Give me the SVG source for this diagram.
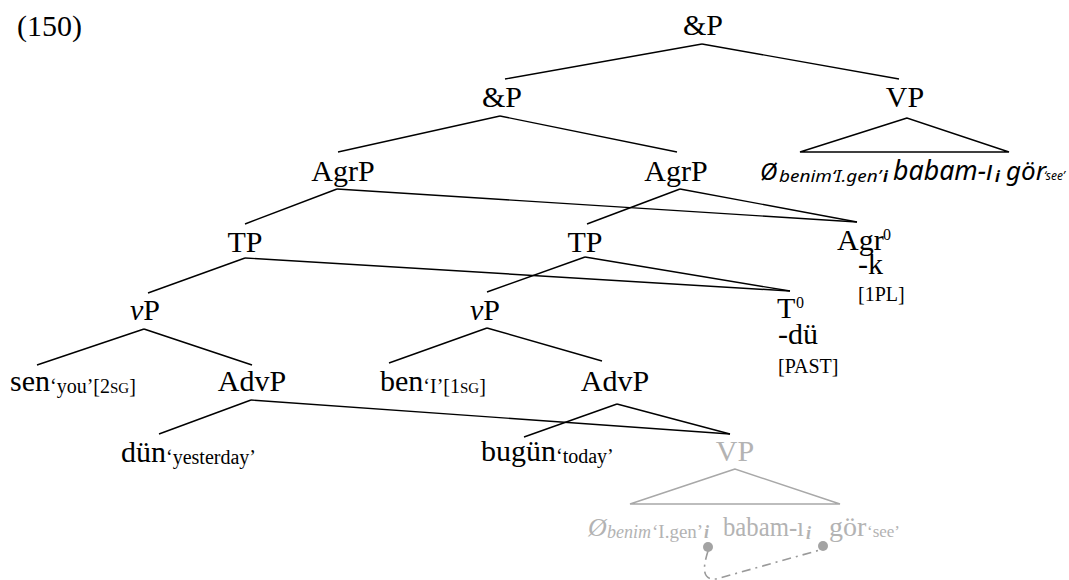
<svg xmlns="http://www.w3.org/2000/svg" width="1069" height="580" viewBox="0 0 1069 580">
<style>
text{font-family:"Liberation Serif",serif;fill:#000}
.n{font-size:30px}
.m{text-anchor:middle}
.s{font-size:20px}
.sc{font-size:15px}
.it{font-style:italic}
.g{fill:#b3b3b3}
.e{stroke:#000;stroke-width:1.4;fill:none}
.ge{stroke:#a8a8a8;stroke-width:1.4;fill:none}
.sans{font-family:"Noto Sans","DejaVu Sans",sans-serif;font-style:italic}
</style>
<rect width="1069" height="580" fill="#fff"/>
<text class="n" x="17" y="36">(150)</text>
<g id="connectors">
<line class="e" x1="702" y1="44" x2="505" y2="79"/>
<line class="e" x1="702" y1="44" x2="899" y2="79"/>
<polygon class="e" points="907,118 800,152 1009,152"/>
<line class="e" x1="500" y1="116" x2="338" y2="152"/>
<line class="e" x1="500" y1="116" x2="677" y2="152"/>
<line class="e" x1="337" y1="189" x2="245" y2="224"/>
<line class="e" x1="337" y1="189" x2="857" y2="222"/>
<line class="e" x1="680" y1="189" x2="587" y2="224"/>
<line class="e" x1="680" y1="189" x2="857" y2="222"/>
<line class="e" x1="245" y1="258" x2="148" y2="293"/>
<line class="e" x1="245" y1="258" x2="790" y2="291"/>
<line class="e" x1="585" y1="257" x2="487" y2="292"/>
<line class="e" x1="585" y1="257" x2="790" y2="291"/>
<line class="e" x1="144" y1="329" x2="37" y2="365"/>
<line class="e" x1="144" y1="329" x2="252" y2="365"/>
<line class="e" x1="487" y1="328" x2="389" y2="363"/>
<line class="e" x1="487" y1="328" x2="602" y2="361"/>
<line class="e" x1="251" y1="400" x2="159" y2="434"/>
<line class="e" x1="251" y1="400" x2="730" y2="434"/>
<line class="e" x1="617" y1="404" x2="524" y2="437"/>
<line class="e" x1="617" y1="404" x2="730" y2="434"/>
<polygon class="ge" points="735,469 630,504 840,504"/>
<path d="M708,551 C702,570 703,580 716,579 L820,550" fill="none" stroke="#9a9a9a" stroke-width="1.6" stroke-dasharray="9,5,2,5"/>
</g>
<g id="n-andP-top"><text class="n m" x="703" y="35">&amp;P</text></g>
<g id="n-andP"><text class="n m" x="502" y="107">&amp;P</text></g>
<g id="n-VP"><text class="n m" x="905" y="107">VP</text>
<text x="760" y="180" class="sans"><tspan font-size="24">Ø</tspan><tspan x="779" y="182" font-size="16" textLength="102" lengthAdjust="spacingAndGlyphs">benim‘I.gen’</tspan><tspan x="883" y="182" font-size="16" font-weight="bold">i</tspan><tspan x="893" y="180" font-size="27" textLength="100" lengthAdjust="spacingAndGlyphs">babam-ı</tspan><tspan x="995" y="182" font-size="16" font-weight="bold">i</tspan><tspan x="1006" y="180" font-size="26">gör</tspan><tspan x="1044" y="180" font-size="12">‘see’</tspan></text></g>
<g id="n-AgrP-l"><text class="n m" x="343" y="181">AgrP</text></g>
<g id="n-AgrP-r"><text class="n m" x="676" y="181">AgrP</text></g>
<g id="n-TP-l"><text class="n m" x="245" y="252">TP</text></g>
<g id="n-TP-r"><text class="n m" x="585" y="252">TP</text></g>
<g id="n-Agr0"><text class="n" x="837" y="250">Agr</text><text x="883" y="240" font-size="16">0</text>
<text class="n" x="858" y="274" font-size="26">-k</text>
<text class="s" x="858" y="301">[1PL]</text></g>
<g id="n-vP-l"><text class="n m" x="145" y="320"><tspan class="it">v</tspan>P</text></g>
<g id="n-vP-r"><text class="n m" x="485" y="320"><tspan class="it">v</tspan>P</text></g>
<g id="n-T0"><text class="n" x="777" y="318">T</text><text x="796" y="308" font-size="16">0</text>
<text class="n" x="778" y="344" font-size="25">-dü</text>
<text class="s" x="778" y="373">[PAST]</text></g>
<g id="n-sen"><text class="n" x="10" y="391">sen<tspan class="s" dy="2">‘you’[2<tspan class="sc">SG</tspan>]</tspan></text></g>
<g id="n-AdvP-l"><text class="n m" x="252" y="391">AdvP</text></g>
<g id="n-ben"><text class="n" x="380" y="391">ben<tspan class="s" dy="2">‘I’[1<tspan class="sc">SG</tspan>]</tspan></text></g>
<g id="n-AdvP-r"><text class="n m" x="615" y="391">AdvP</text></g>
<g id="n-dun"><text class="n" x="121" y="462">dün<tspan class="s" dy="2">‘yesterday’</tspan></text></g>
<g id="n-bugun"><text class="n" x="481" y="461">bugün<tspan class="s" dy="2">‘today’</tspan></text></g>
<g id="n-VP-gray"><text class="n m g" x="735" y="461">VP</text>
<text class="g" x="588" y="536"><tspan font-size="26" class="it">Ø</tspan><tspan x="607" y="538" font-size="18" class="it">benim</tspan><tspan x="652" font-size="19">‘I.gen’</tspan><tspan x="704" font-size="18" class="it" font-weight="bold">i</tspan><tspan x="723" y="536" font-size="28" textLength="81" lengthAdjust="spacingAndGlyphs">babam-ı</tspan><tspan x="806" y="539" font-size="18" class="it" font-weight="bold">i</tspan><tspan x="829" y="536" font-size="28">gör</tspan><tspan x="867" y="537" font-size="17">‘see’</tspan></text>
<circle cx="708" cy="547" r="5" fill="#a3a3a3"/>
<circle cx="823" cy="546" r="5" fill="#a3a3a3"/></g>
</svg>
